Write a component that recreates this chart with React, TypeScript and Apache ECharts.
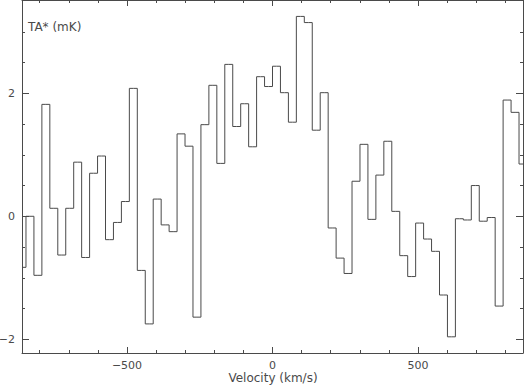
import React, { useEffect, useRef } from "react";
import * as echarts from "echarts";

// Antenna temperature per channel (mK), 64 channels, left to right
const TA_VALUES: number[] = [
  -0.83, 0.0, -0.96, 1.82, 0.13, -0.63, 0.13, 0.88, -0.67, 0.7, 0.98, -0.38,
  -0.1, 0.24, 2.08, -0.88, -1.75, 0.28, -0.14, -0.25, 1.34, 1.14, -1.64, 1.49,
  2.13, 0.86, 2.47, 1.46, 1.83, 1.13, 2.27, 2.11, 2.44, 2.01, 1.53, 3.25, 3.15,
  1.4, 2.01, -0.19, -0.68, -0.93, 0.57, 1.17, -0.05, 0.67, 1.22, 0.08, -0.64,
  -0.98, -0.11, -0.37, -0.57, -1.28, -1.96, -0.04, -0.06, 0.5, -0.08, -0.02,
  -1.46, 1.89, 1.69, 0.85,
];
const CHANNEL_WIDTH = 27.33; // km/s
const X_MAJOR = [-500, 0, 500];
const X_MINOR = [-800, -700, -600, -400, -300, -200, -100, 100, 200, 300, 400, 600, 700, 800];
const Y_MAJOR = [-2, 0, 2];
const Y_MINOR = [-1.5, -1, -0.5, 0.5, 1, 1.5, 2.5, 3];
const Y_MIN = -2.223;
const Y_MAX = 3.517;
const X_LABEL = "Velocity (km/s)";
const Y_LABEL = "TA* (mK)";

const INK = "#4a4a4a";
const FONT = "DejaVu Sans";

export default function App() {
  const ref = useRef<HTMLDivElement>(null);
  useEffect(() => {
    if (!ref.current) return;
    const chart = echarts.init(ref.current, undefined, { renderer: "svg" });
    const half = (TA_VALUES.length - 1) / 2;
    const velocities = TA_VALUES.map((_, i) => (i - half) * CHANNEL_WIDTH);
    const xMin = velocities[0];
    const xMax = velocities[velocities.length - 1];
    const fmt = (v: number) => String(v).replace("-", "\u2212");
    const line = { show: true, onZero: false, lineStyle: { color: INK, width: 1 } };
    const noLine = { show: false, onZero: false };
    const mkX = (pos: "top" | "bottom", major: boolean, labels: boolean): any => ({
      type: "value",
      position: pos,
      gridIndex: 0,
      min: xMin,
      max: xMax,
      axisLine: major ? line : noLine,
      splitLine: { show: false },
      axisTick: {
        show: true,
        inside: true,
        length: major ? 6 : 3,
        lineStyle: { color: INK, width: 1 },
        customValues: major ? X_MAJOR : X_MINOR,
      },
      axisLabel: {
        show: labels,
        customValues: major ? X_MAJOR : X_MINOR,
        formatter: fmt,
        color: INK,
        fontFamily: FONT,
        fontSize: 11,
        margin: 7,
      },
    });
    const mkY = (pos: "left" | "right", major: boolean, labels: boolean): any => ({
      type: "value",
      position: pos,
      gridIndex: 0,
      min: Y_MIN,
      max: Y_MAX,
      axisLine: major ? line : noLine,
      splitLine: { show: false },
      axisTick: {
        show: true,
        inside: true,
        length: major ? 7 : 3,
        lineStyle: { color: INK, width: 1 },
        customValues: major ? Y_MAJOR : Y_MINOR,
      },
      axisLabel: {
        show: labels,
        customValues: major ? Y_MAJOR : Y_MINOR,
        formatter: fmt,
        color: INK,
        fontFamily: FONT,
        fontSize: 11,
        margin: 7,
      },
    });
    chart.setOption({
      animation: false,
      grid: {
        left: 22,
        top: 0,
        width: 501,
        height: 353,
        containLabel: false,
        outerBoundsMode: "none",
      },
      xAxis: [
        mkX("bottom", true, true),
        mkX("bottom", false, false),
        mkX("top", true, false),
        mkX("top", false, false),
      ],
      yAxis: [
        mkY("left", true, true),
        mkY("left", false, false),
        mkY("right", true, false),
        mkY("right", false, false),
      ],
      graphic: [
        {
          type: "text",
          left: 28,
          top: 21,
          style: { text: Y_LABEL, fill: INK, font: `12px "${FONT}"` },
        },
        {
          type: "text",
          x: 273,
          y: 378,
          style: {
            text: X_LABEL,
            fill: INK,
            font: `12px "${FONT}"`,
            align: "center",
            verticalAlign: "middle",
          },
        },
      ],
      series: [
        {
          type: "line",
          step: "middle",
          xAxisIndex: 0,
          yAxisIndex: 0,
          showSymbol: false,
          symbol: "none",
          lineStyle: { color: INK, width: 1 },
          data: velocities.map((v, i) => [v, TA_VALUES[i]]),
        },
      ],
    });
    return () => chart.dispose();
  }, []);
  return (
    <div
      ref={ref}
      style={{ position: "fixed", left: 0, top: 0, width: 524, height: 385, background: "#fff" }}
    />
  );
}
